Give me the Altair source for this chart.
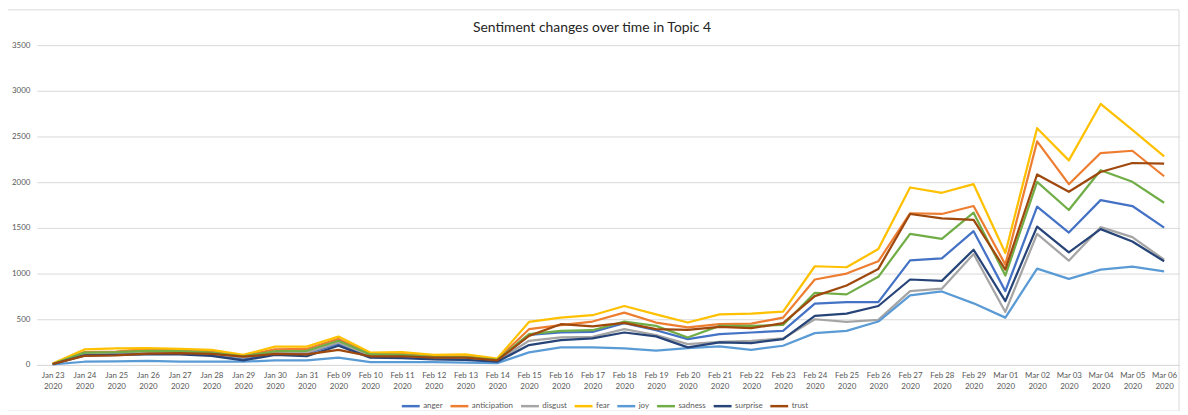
import altair as alt
import pandas as pd

dates = ["Jan 23 2020", "Jan 24 2020", "Jan 25 2020", "Jan 26 2020", "Jan 27 2020",
         "Jan 28 2020", "Jan 29 2020", "Jan 30 2020", "Jan 31 2020", "Feb 09 2020",
         "Feb 10 2020", "Feb 11 2020", "Feb 12 2020", "Feb 13 2020", "Feb 14 2020",
         "Feb 15 2020", "Feb 16 2020", "Feb 17 2020", "Feb 18 2020", "Feb 19 2020",
         "Feb 20 2020", "Feb 21 2020", "Feb 22 2020", "Feb 23 2020", "Feb 24 2020",
         "Feb 25 2020", "Feb 26 2020", "Feb 27 2020", "Feb 28 2020", "Feb 29 2020",
         "Mar 01 2020", "Mar 02 2020", "Mar 03 2020", "Mar 04 2020", "Mar 05 2020",
         "Mar 06 2020"]

anger = [10, 115, 120, 130, 125, 110, 70, 130, 125, 230, 95, 85, 65, 60, 40,
         330, 355, 362, 457, 380, 283, 337, 355, 373,
         670, 688, 688, 1145, 1166, 1464,
         808, 1732, 1449, 1804, 1739, 1503]
anticipation = [12, 140, 145, 175, 160, 150, 100, 170, 175, 285, 120, 120, 95, 95, 60,
                391, 435, 475, 572, 464, 410, 446, 453, 518,
                935, 1000, 1134, 1660, 1652, 1739,
                1098, 2446, 1978, 2319, 2344, 2065]
disgust = [10, 125, 130, 140, 135, 120, 80, 140, 135, 245, 100, 90, 70, 70, 45,
           264, 301, 308, 391, 326, 228, 253, 264, 290,
           500, 471, 493, 808, 834, 1214,
           580, 1435, 1141, 1508, 1399, 1152]
fear = [15, 170, 180, 185, 175, 165, 110, 200, 200, 310, 135, 140, 110, 115, 70,
        471, 518, 544, 645, 554, 464, 554, 562, 584,
        1080, 1069, 1268, 1942, 1884, 1978,
        1225, 2591, 2239, 2856, 2573, 2283]
joy = [5, 35, 40, 45, 35, 35, 35, 50, 50, 80, 30, 30, 30, 25, 20,
       138, 192, 192, 181, 156, 185, 203, 166, 210,
       348, 373, 475, 761, 804, 674,
       518, 1054, 942, 1043, 1076, 1025]
sadness = [10, 135, 140, 155, 150, 135, 95, 150, 155, 265, 115, 110, 85, 85, 55,
           337, 373, 380, 475, 427, 301, 427, 427, 438,
           790, 772, 964, 1435, 1380, 1666,
           978, 2004, 1696, 2131, 2004, 1775]
surprise = [8, 105, 110, 115, 115, 100, 50, 110, 95, 210, 80, 75, 60, 55, 35,
            217, 272, 290, 355, 312, 192, 247, 239, 283,
            536, 562, 645, 935, 920, 1261,
            699, 1514, 1232, 1486, 1351, 1134]
trust = [10, 100, 105, 125, 130, 120, 90, 120, 115, 165, 95, 95, 80, 80, 50,
         318, 446, 421, 460, 391, 384, 416, 402, 457,
         753, 870, 1051, 1652, 1605, 1587,
         1043, 2084, 1895, 2112, 2210, 2203]

series_names = ["anger", "anticipation", "disgust", "fear", "joy", "sadness", "surprise", "trust"]
series_values = [anger, anticipation, disgust, fear, joy, sadness, surprise, trust]
colors = ["#4472C4", "#ED7D31", "#A5A5A5", "#FFC000", "#5B9BD5", "#70AD47", "#264478", "#9E480E"]
y_ticks = [0, 500, 1000, 1500, 2000, 2500, 3000, 3500]
title_text = ["Sentiment changes over time in Topic 4"]

rows = []
for name, vals in zip(series_names, series_values):
    for d, v in zip(dates, vals):
        rows.append({"date": d, "sentiment": name, "value": v})
df = pd.DataFrame(rows)

FONT = "Lato"

lines = alt.Chart(df).mark_line(strokeWidth=2.25, strokeJoin="round").encode(
    x=alt.X("date:N", sort=dates,
            scale=alt.Scale(type="point", padding=0.5),
            axis=alt.Axis(title=None, labelAngle=0, ticks=False,
                          domainColor="#D9D9D9", domainWidth=1,
                          labelExpr="[slice(datum.value, 0, 6), slice(datum.value, 7)]",
                          labelFontSize=8, labelColor="#595959", labelFont=FONT,
                          labelLineHeight=11, labelPadding=7, labelOverlap=False)),
    y=alt.Y("value:Q",
            scale=alt.Scale(domain=[0, 3500], nice=False),
            axis=alt.Axis(title=None, values=y_ticks, ticks=False, domain=False,
                          format="d",
                          gridColor="#D9D9D9", gridWidth=1,
                          labelFontSize=8, labelColor="#595959", labelFont=FONT,
                          labelPadding=7)),
    color=alt.Color("sentiment:N",
                    scale=alt.Scale(domain=series_names, range=colors),
                    legend=alt.Legend(title=None, orient="none", direction="horizontal",
                                      legendX=366, legendY=353,
                                      gridAlign="none",
                                      symbolType="stroke", symbolSize=324,
                                      symbolStrokeWidth=2.5,
                                      labelFontSize=8, labelColor="#595959",
                                      labelFont=FONT, columnPadding=2,
                                      labelOffset=2)),
)

border = alt.Chart(pd.DataFrame({"k": [0]})).mark_rect(
    filled=False, stroke="#D9D9D9", strokeWidth=1
).encode(
    x=alt.value(-29.5), x2=alt.value(1150), y=alt.value(-35.5), y2=alt.value(368.5)
)

title = alt.Chart(pd.DataFrame({"t": title_text})).mark_text(
    font=FONT, fontSize=14, color="#262626", align="center", baseline="middle"
).encode(
    text="t:N", x=alt.value(559), y=alt.value(-17)
)

chart = alt.layer(border, lines, title).properties(
    width=1151, height=322,
    autosize=alt.AutoSizeParams(type="none"),
    padding={"left": 29, "top": 36, "right": 0, "bottom": 45},
).configure_view(stroke=None)

chart.save("out.html", embed_options={"renderer": "svg", "actions": False})
